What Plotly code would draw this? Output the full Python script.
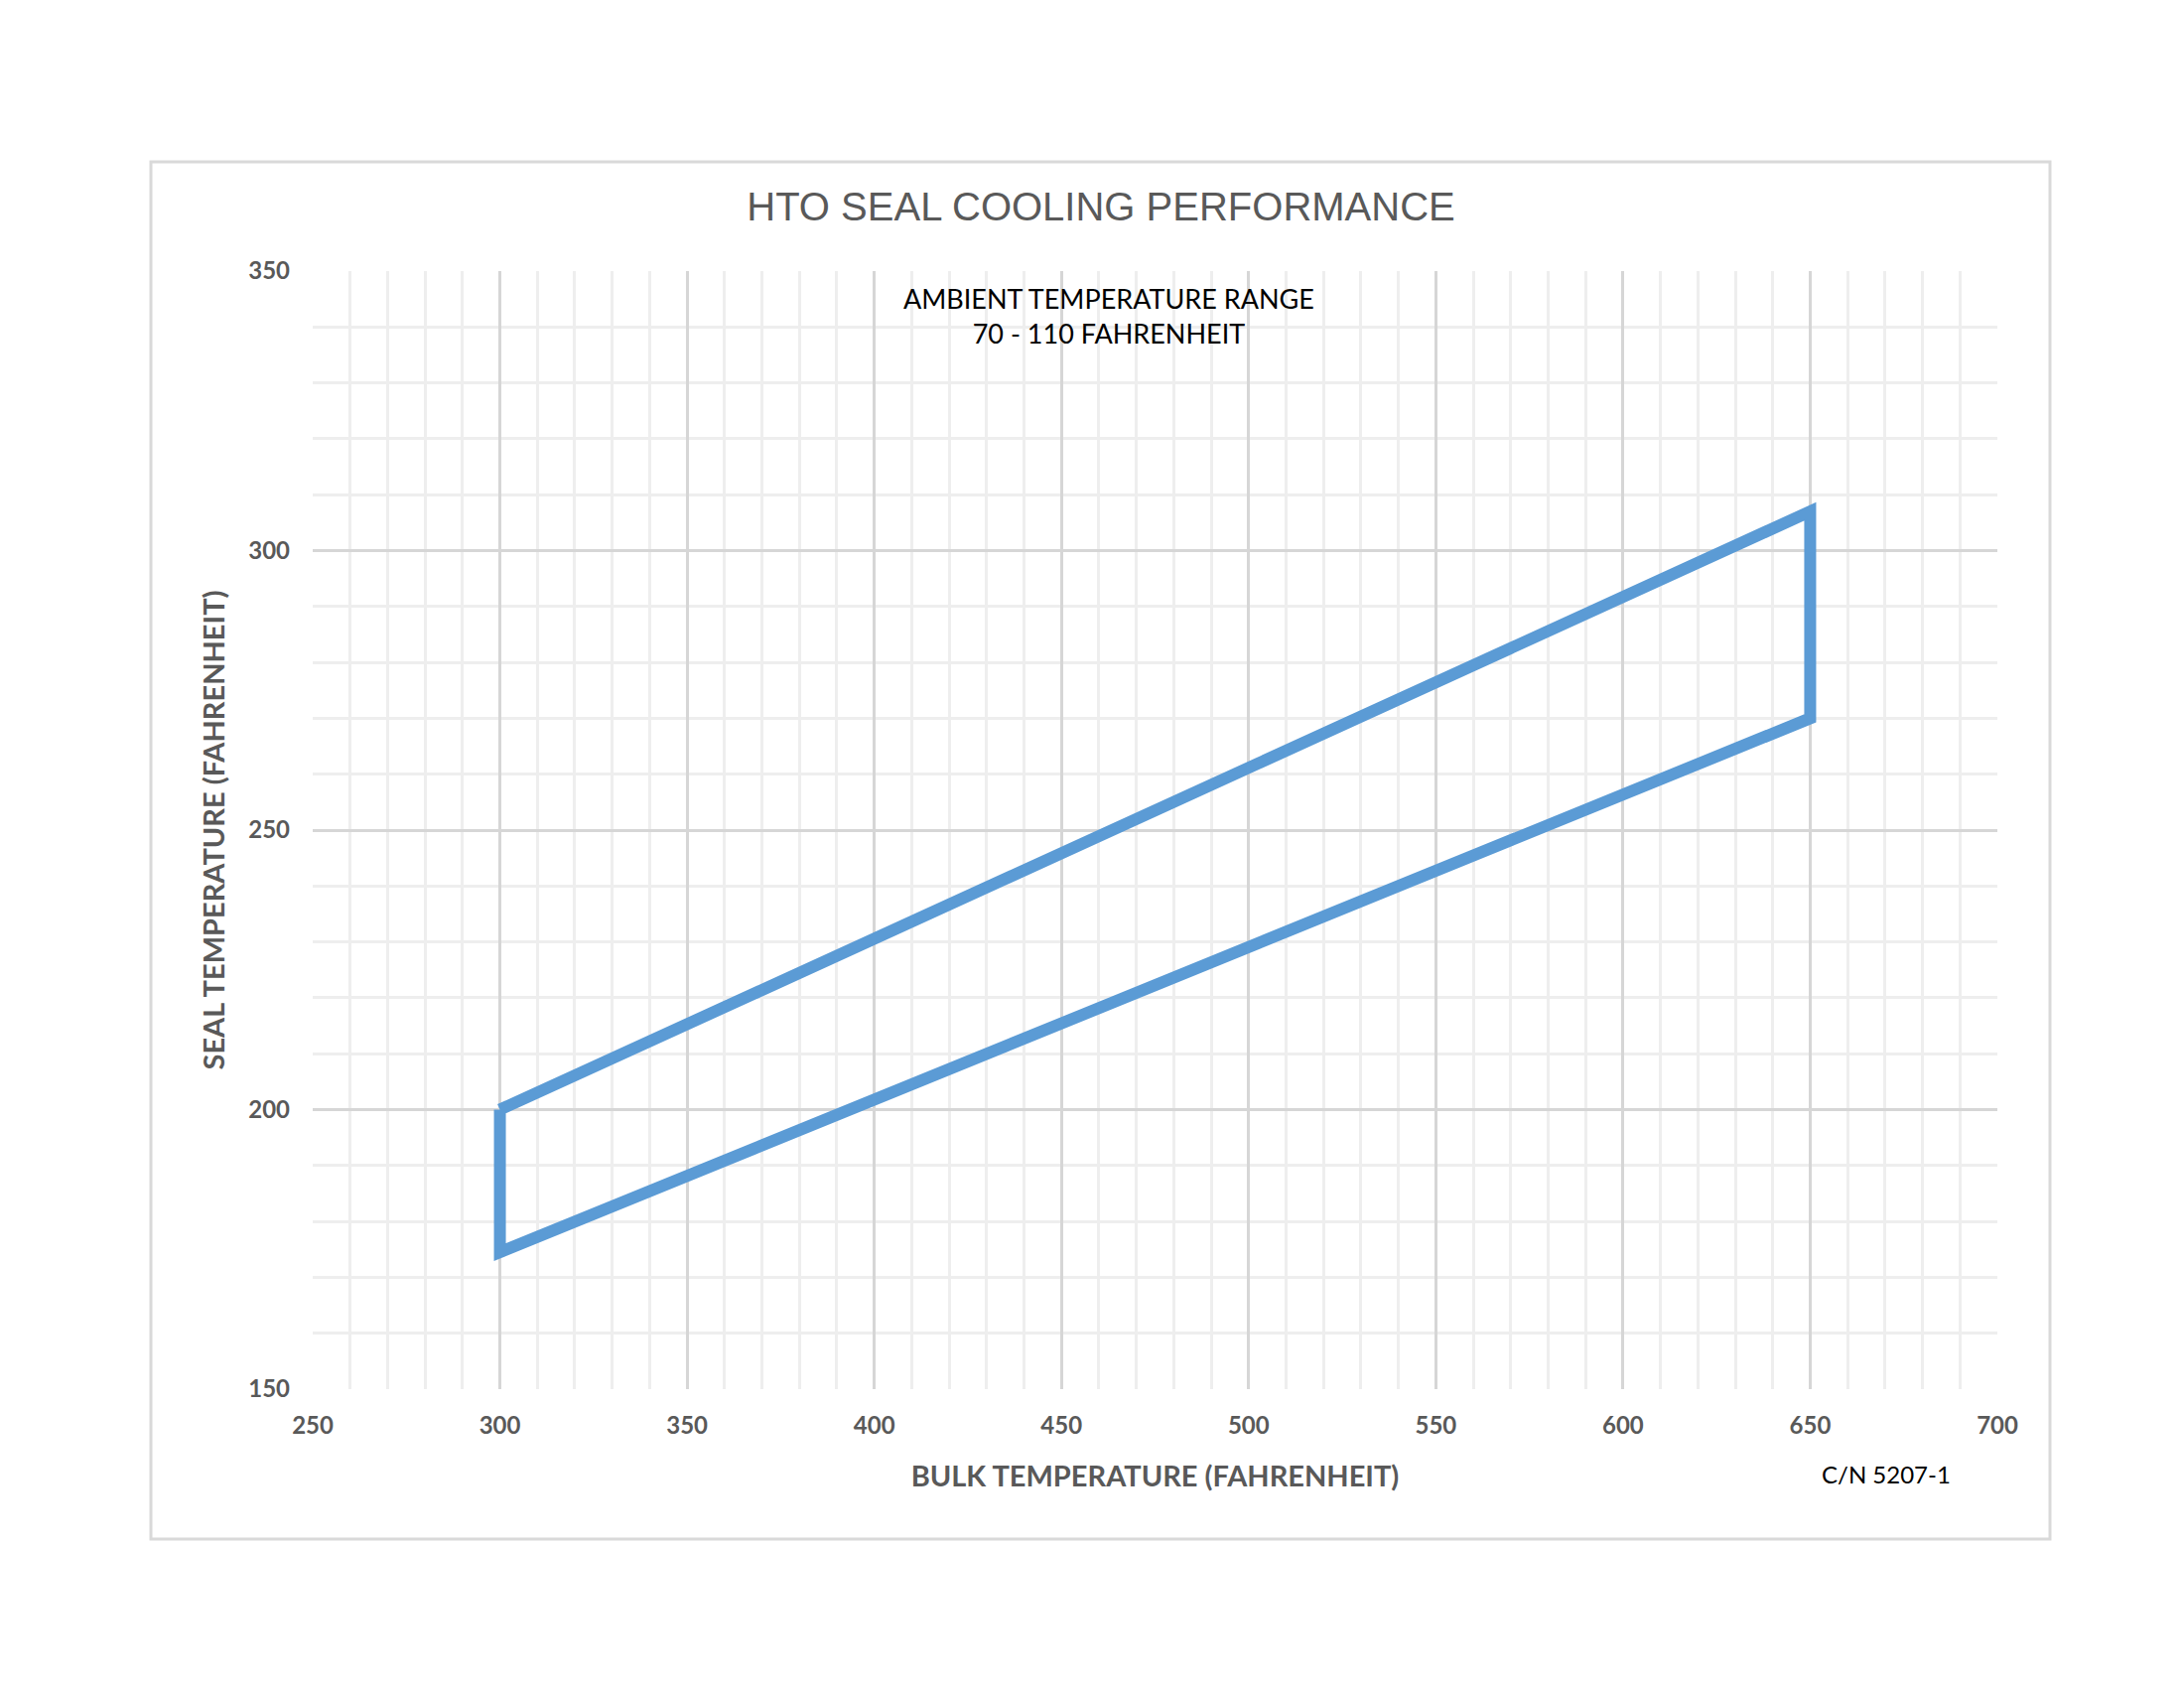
import plotly.graph_objects as go

# outline of the operating envelope (bulk temp vs seal temp)
bulk_temp = [300, 650, 650, 300, 300]
seal_temp = [200, 307, 270, 174.5, 200]

x_range = [250, 700]
y_range = [150, 350]
x_ticks = [250, 300, 350, 400, 450, 500, 550, 600, 650, 700]
y_ticks = [150, 200, 250, 300, 350]

title_text = "HTO SEAL COOLING PERFORMANCE"
note_text = "AMBIENT TEMPERATURE RANGE<br>70 - 110 FAHRENHEIT"
code_text = "C/N 5207-1"

W, H = 2200, 1700
OFF = 8  # page body margin shifts the figure
L, R, T, B = 315 - OFF, 188 + OFF, 273 - OFF, 301 + OFF
pw, ph = W - L - R, H - T - B


def px_to_paper_x(p):
    return (p - OFF - L) / pw


def px_to_paper_y(p):
    return (H - B - (p - OFF)) / ph


fig = go.Figure()
fig.add_trace(go.Scatter(
    x=bulk_temp, y=seal_temp, mode="lines",
    line=dict(color="#5b9bd5", width=12),
    showlegend=False, hoverinfo="x+y",
))

grey = "#595959"
axis_common = dict(
    showgrid=True, gridcolor="#d6d6d6", gridwidth=2.5,
    zeroline=False, showline=False, ticks="",
    tickfont=dict(family="Lato", size=24, color=grey, weight="bold"),
    minor=dict(showgrid=True, gridcolor="#eeeeee", gridwidth=2.5),
)

fig.update_xaxes(
    range=x_range, tickvals=x_ticks, minor_dtick=10, ticklabelstandoff=20,
    title=dict(text="BULK TEMPERATURE (FAHRENHEIT)", standoff=28,
               font=dict(family="Lato", size=29, color=grey, weight="bold")),
    **axis_common,
)
fig.update_yaxes(
    range=y_range, tickvals=y_ticks, minor_dtick=10, ticklabelstandoff=22,
    title=dict(text="SEAL TEMPERATURE (FAHRENHEIT)", standoff=15,
               font=dict(family="Lato", size=29, color=grey, weight="bold")),
    **axis_common,
)

# outer chart frame
fig.add_shape(type="rect", xref="paper", yref="paper", layer="below",
              x0=px_to_paper_x(152), x1=px_to_paper_x(2065),
              y0=px_to_paper_y(1550), y1=px_to_paper_y(163),
              line=dict(color="#d9d9d9", width=3), fillcolor="rgba(0,0,0,0)")

fig.add_annotation(text=note_text, xref="paper", yref="paper",
                   x=px_to_paper_x(1117), y=px_to_paper_y(318),
                   xanchor="center", yanchor="middle",
                   showarrow=False, align="center",
                   font=dict(family="Lato", size=27, color="black"))
fig.add_annotation(text=code_text, xref="paper", yref="paper",
                   x=px_to_paper_x(1900), y=px_to_paper_y(1484),
                   xanchor="center", yanchor="middle", showarrow=False,
                   font=dict(family="Lato", size=24, color="black"))

fig.update_layout(
    width=W, height=H,
    margin=dict(l=L, r=R, t=T, b=B),
    title=dict(text=title_text, x=(1109 - OFF) / W, xanchor="center",
               y=1 - (208 - OFF) / H, yanchor="middle",
               font=dict(family="Liberation Sans", size=40, color=grey)),
    paper_bgcolor="white", plot_bgcolor="white",
)

fig.write_html("out.html")
